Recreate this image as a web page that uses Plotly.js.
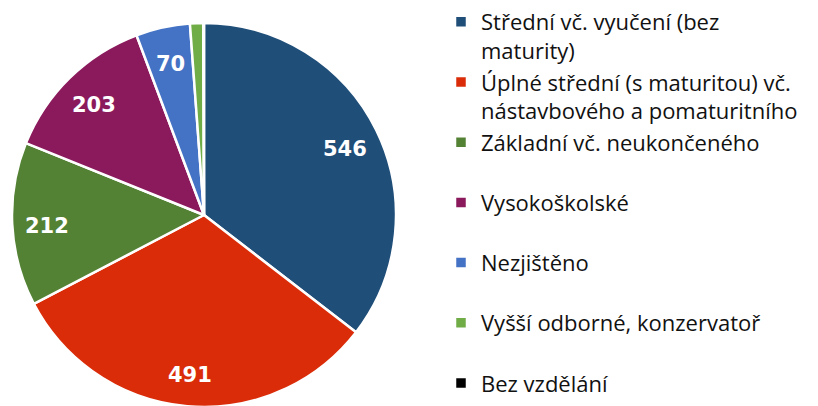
<!DOCTYPE html>
<html><head><meta charset="utf-8">
<script src="https://cdn.plot.ly/plotly-3.0.1.min.js"></script>
<style>html,body{margin:0;padding:0;overflow:hidden;background:#fff;}</style>
</head><body>
<div id="chart" style="width:818px;height:410px;"></div>
<script>
const labels = [
  "Střední vč. vyučení (bez<br>maturity)",
  "Úplné střední (s maturitou) vč.<br>nástavbového a pomaturitního",
  "Základní vč. neukončeného<br> ",
  "Vysokoškolské<br> ",
  "Nezjištěno<br> ",
  "Vyšší odborné, konzervatoř<br> ",
  "Bez vzdělání"
];
const values = [546, 491, 212, 203, 70, 17, 1];
const colors = ["#1F4E79", "#DA2C08", "#548235", "#8B1A5C", "#4472C4", "#70AD47", "#000000"];
const labelMin = 50; // only slices with at least this value get a data label

const W = 818, H = 410;
const pieLeft = 12, pieRight = 396, pieTop = 23, pieBottom = 407;
const cx = (pieLeft + pieRight) / 2, cy = (pieTop + pieBottom) / 2;
const R = Math.min(pieRight - pieLeft, pieBottom - pieTop) / 2;
const labelRadius = 0.82;

const total = values.reduce((a, b) => a + b, 0);
const annotations = [];
let cum = 0;
values.forEach((v) => {
  const mid = (cum + v / 2) / total * 2 * Math.PI;
  cum += v;
  if (v < labelMin) return;
  const px = cx + labelRadius * R * Math.sin(mid);
  const py = cy - labelRadius * R * Math.cos(mid);
  annotations.push({
    xref: "paper", yref: "paper",
    x: px / W, y: 1 - py / H,
    xanchor: "center", yanchor: "middle", yshift: -3,
    text: String(v), showarrow: false,
    font: {family: "'DejaVu Sans', sans-serif", size: 21, color: "#ffffff", weight: "bold"}
  });
});

const trace = {
  type: "pie",
  labels: labels,
  values: values,
  textinfo: "none",
  sort: false,
  direction: "clockwise",
  rotation: 0,
  marker: {colors: colors, line: {color: "#ffffff", width: 2.5}},
  domain: {x: [pieLeft / W, pieRight / W], y: [(H - pieBottom) / H, (H - pieTop) / H]},
  hoverinfo: "label+value"
};
const layout = {
  width: W, height: H,
  margin: {l: 0, r: 0, t: 0, b: 0},
  paper_bgcolor: "#ffffff",
  showlegend: true,
  annotations: annotations,
  legend: {
    x: 441 / W, y: (H - 1) / H, xanchor: "left", yanchor: "top",
    valign: "top",
    font: {family: "'Open Sans', sans-serif", size: 22, color: "#111111"},
    itemwidth: 30, tracegroupgap: 0
  }
};
Plotly.newPlot("chart", [trace], layout, {displayModeBar: false, staticPlot: true});
</script>
</body></html>
